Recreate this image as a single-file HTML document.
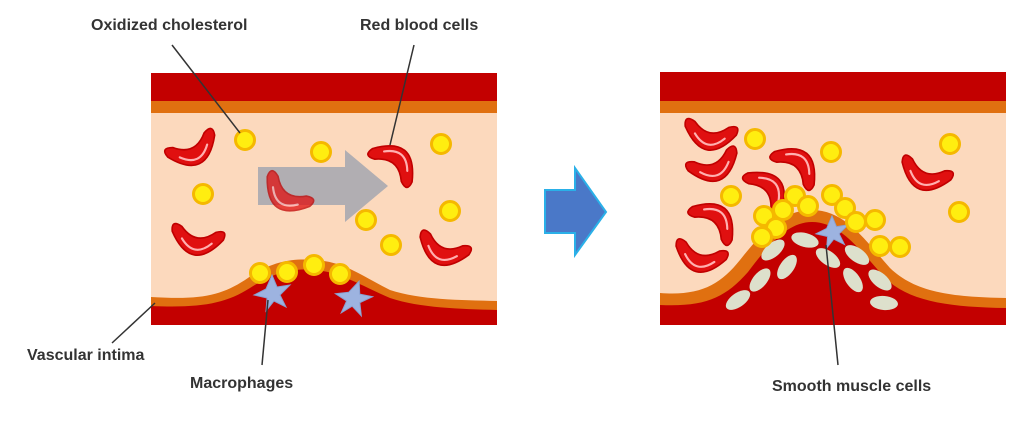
<!DOCTYPE html>
<html><head><meta charset="utf-8"><style>
body{margin:0;background:#fff;width:1024px;height:425px;overflow:hidden}
text{font-family:"Liberation Sans",Arial,sans-serif;font-weight:bold;font-size:16px;fill:#333}
</style></head><body>
<svg width="1024" height="425" viewBox="0 0 1024 425" xmlns="http://www.w3.org/2000/svg">
<defs>
<g id="rbc" transform="scale(1.08)">
<path d="M-24,4 Q0,-32 24,4 Q27,15 16,10 Q0,-6 -16,10 Q-27,15 -24,4Z" fill="#e01010" stroke="#c00000" stroke-width="1.5"/>
<path d="M-14,-1 Q0,-17 14,-1" fill="none" stroke="#ffb0b0" stroke-width="2" stroke-linecap="round"/>
</g>
<g id="dot"><circle r="9.5" fill="#ffee10" stroke="#f5b800" stroke-width="3"/></g>
<g id="smc"><ellipse rx="14" ry="7" fill="#dde0cc"/></g>
<g id="mac"><path d="M0,-18 L5,-6 L18,-8 L8,2 L14,14 L2,8 L-6,18 L-5,5 L-18,2 L-6,-4Z" fill="#9db3e0" stroke="#8aa0d0" stroke-width="1"/></g>
</defs>

<rect x="151" y="73" width="346" height="252" fill="#fcd9bd"/>
<rect x="151" y="73" width="346" height="29" fill="#c30000"/>
<rect x="151" y="101" width="346" height="12" fill="#e07010"/>
<path d="M151,297 C200,300 220,296 245,280 C270,262 290,258 315,260 C345,262 360,275 390,290 C420,300 460,300 497,301 L497,325 L151,325Z" fill="#e07010"/>
<path d="M151,306 C200,308 225,304 250,288 C275,272 292,268 315,270 C340,272 360,285 390,298 C420,308 460,309 497,310 L497,325 L151,325Z" fill="#c30000"/>

<polygon points="258,167 345,167 345,150 388,186 345,222 345,205 258,205" fill="#a8a8b0" opacity="0.9"/>
<use href="#rbc" transform="translate(193,150) rotate(155)"/>
<use href="#rbc" transform="translate(286,195) rotate(215)" opacity="0.75"/>
<use href="#rbc" transform="translate(395,162) rotate(40)"/>
<use href="#rbc" transform="translate(197,240) rotate(190)"/>
<use href="#rbc" transform="translate(443,250) rotate(200)"/>
<use href="#dot" x="245" y="140"/><use href="#dot" x="321" y="152"/><use href="#dot" x="203" y="194"/>
<use href="#dot" x="366" y="220"/><use href="#dot" x="441" y="144"/><use href="#dot" x="450" y="211"/>
<use href="#dot" x="391" y="245"/>
<use href="#mac" transform="translate(272,293)"/>
<use href="#mac" transform="translate(353,298) rotate(20)"/>
<use href="#dot" x="260" y="273"/><use href="#dot" x="287" y="272"/><use href="#dot" x="314" y="265"/><use href="#dot" x="340" y="274"/>

<polygon points="545,190 575,190 575,168 606,212 575,255 575,233 545,233" fill="#4a78c8" stroke="#2ab0e8" stroke-width="2"/>

<rect x="660" y="72" width="346" height="253" fill="#fcd9bd"/>
<rect x="660" y="72" width="346" height="30" fill="#c30000"/>
<rect x="660" y="101" width="346" height="12" fill="#e07010"/>
<path d="M660,293 C700,296 720,285 740,260 C765,228 785,210 812,210 C845,210 865,240 890,268 C915,292 950,297 1006,298 L1006,325 L660,325Z" fill="#e07010"/>
<path d="M660,305 C705,307 725,298 748,272 C772,240 790,222 812,222 C840,222 860,250 885,278 C910,302 950,307 1006,308 L1006,325 L660,325Z" fill="#c30000"/>
<use href="#smc" transform="translate(805,240) rotate(15)"/>
<use href="#smc" transform="translate(773,250) rotate(-40)"/>
<use href="#smc" transform="translate(828,258) rotate(35)"/>
<use href="#smc" transform="translate(857,255) rotate(35)"/>
<use href="#smc" transform="translate(787,267) rotate(-55)"/>
<use href="#smc" transform="translate(760,280) rotate(-50)"/>
<use href="#smc" transform="translate(853,280) rotate(55)"/>
<use href="#smc" transform="translate(880,280) rotate(40)"/>
<use href="#smc" transform="translate(738,300) rotate(-35)"/>
<use href="#smc" transform="translate(884,303) rotate(5)"/>
<use href="#mac" transform="translate(832,232) scale(0.9)"/>
<use href="#rbc" transform="translate(710,135) rotate(190)"/>
<use href="#rbc" transform="translate(714,166) rotate(160)"/>
<use href="#rbc" transform="translate(797,165) rotate(40)"/>
<use href="#rbc" transform="translate(768,190) rotate(50)"/>
<use href="#rbc" transform="translate(715,220) rotate(40)"/>
<use href="#rbc" transform="translate(700,257) rotate(195)"/>
<use href="#rbc" transform="translate(925,175) rotate(200)"/>
<use href="#dot" x="755" y="139"/><use href="#dot" x="831" y="152"/><use href="#dot" x="950" y="144"/>
<use href="#dot" x="959" y="212"/><use href="#dot" x="731" y="196"/>
<use href="#dot" x="795" y="196"/><use href="#dot" x="832" y="195"/><use href="#dot" x="808" y="206"/>
<use href="#dot" x="783" y="210"/><use href="#dot" x="845" y="208"/><use href="#dot" x="764" y="216"/>
<use href="#dot" x="856" y="222"/><use href="#dot" x="875" y="220"/><use href="#dot" x="776" y="228"/>
<use href="#dot" x="762" y="237"/><use href="#dot" x="880" y="246"/><use href="#dot" x="900" y="247"/>

<g stroke="#333" stroke-width="1.5" fill="none">
<line x1="172" y1="45" x2="240" y2="133"/>
<line x1="414" y1="45" x2="390" y2="145"/>
<line x1="112" y1="343" x2="155" y2="303"/>
<line x1="262" y1="365" x2="268" y2="300"/>
<line x1="838" y1="365" x2="826" y2="245"/>
</g>

<text x="91" y="30">Oxidized cholesterol</text>
<text x="360" y="30">Red blood cells</text>
<text x="27" y="360">Vascular intima</text>
<text x="190" y="388">Macrophages</text>
<text x="772" y="391">Smooth muscle cells</text>
</svg>
</body></html>
